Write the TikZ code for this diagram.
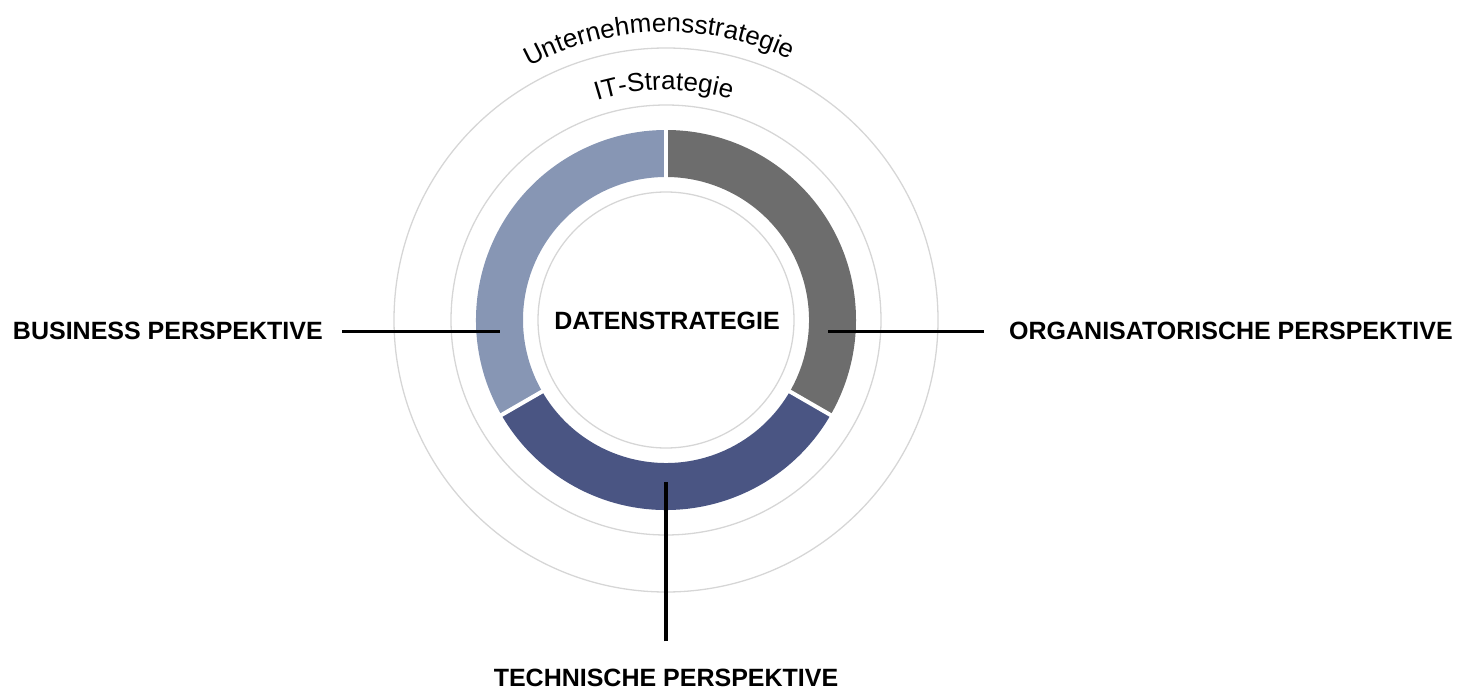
\documentclass[tikz,border=0pt]{standalone}
\usepackage{fontspec}
\setmainfont{Liberation Sans}
\usetikzlibrary{positioning,decorations.text}
\definecolor{bizcol}{HTML}{8796B4}
\definecolor{orgcol}{HTML}{6D6D6D}
\definecolor{techcol}{HTML}{4A5583}
\definecolor{circcol}{HTML}{D6D6D6}
\tikzset{
persp/.style  = {font=\fontsize{25}{30}\selectfont\bfseries, inner sep=0pt},
tmp/.style    = {coordinate},
guide/.style  = {draw=circcol, line width=1.3pt},
gap/.style    = {draw=white, line width=4pt},
leader/.style = {draw=black, line width=3.2pt}
}

\begin{document}
\begin{tikzpicture}[x=1pt, y=1pt]
  \useasboundingbox (0,0) rectangle (1464,689);
  \node [tmp]                                     (center)   at (666,369) {};

  \begin{scope}[shift={(center)}]
    \draw [guide] (0,0) circle[radius=272];
    \draw [guide] (0,0) circle[radius=215];
    \draw [guide] (0,0) circle[radius=128];
    \foreach \a/\col in {90/bizcol, 210/techcol, 330/orgcol}
      \fill [\col] (\a:143) arc[start angle=\a, delta angle=120, radius=143]
        -- ({\a+120}:190) arc[start angle=\a+120, delta angle=-120, radius=190] -- cycle;
    \foreach \a in {90,210,330}
      \draw [gap] (\a:141) -- (\a:192);
    \path [decorate, decoration={text along path, text align=center,
      text={|\fontsize{26}{26}\selectfont|Unternehmensstrategie}}]
      (151.5:288) arc[start angle=151.5, end angle=31.5, radius=288];
    \path [decorate, decoration={text along path, text align=center,
      text={|\fontsize{26}{26}\selectfont|IT-Strategie}}]
      (150.5:230) arc[start angle=150.5, end angle=30.5, radius=230];
  \end{scope}

  \node [persp, anchor=base]                      (data)     at (667,359) {DATENSTRATEGIE};
  \node [persp, anchor=base east]                 (business) at (323,349) {BUSINESS PERSPEKTIVE};
  \node [persp, anchor=base west]                 (orga)     at (1009,349) {ORGANISATORISCHE PERSPEKTIVE};
  \node [persp, anchor=base]                      (technik)  at (666,3) {TECHNISCHE PERSPEKTIVE};

  \node [tmp, right=19pt of business]             (bizout)   {};
  \node [tmp, right=158pt of bizout]              (bizin)    {};
  \node [tmp, left=25pt of orga]                  (orgout)   {};
  \node [tmp, left=156pt of orgout]               (orgin)    {};
  \node [tmp, above=27pt of technik]              (techout)  {};
  \node [tmp, above=159pt of techout]             (techin)   {};

  \draw [leader] (bizout) -- (bizin);
  \draw [leader] (orgout) -- (orgin);
  \draw [leader] (techout) -- (techin);
\end{tikzpicture}
\end{document}
